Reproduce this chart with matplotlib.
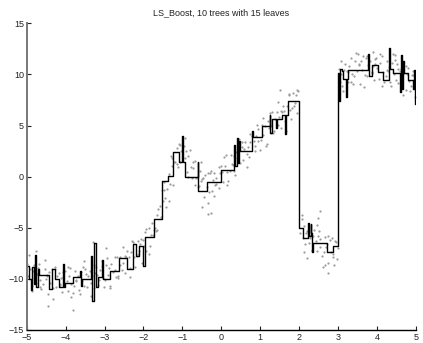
import matplotlib
matplotlib.use("Agg")
import matplotlib.pyplot as plt

plt.rcParams["font.family"] = ["Liberation Sans", "DejaVu Sans"]

# noisy training samples
sample_x = [
    -4.99, -4.955, -4.925, -4.87, -4.84, -4.81, -4.78, -4.75, -4.715, -4.69, -4.655, -4.625,
    -4.57, -4.54, -4.51, -4.48, -4.45, -4.415, -4.39, -4.355, -4.325, -4.27, -4.24, -4.21,
    -4.18, -4.15, -4.115, -4.09, -4.055, -4.025, -3.97, -3.94, -3.91, -3.88, -3.85, -3.815,
    -3.79, -3.755, -3.725, -3.67, -3.64, -3.61, -3.58, -3.55, -3.515, -3.49, -3.455, -3.425,
    -3.37, -3.34, -3.31, -3.28, -3.25, -3.215, -3.19, -3.155, -3.125, -3.07, -3.04, -3.01,
    -2.98, -2.95, -2.915, -2.89, -2.855, -2.825, -2.77, -2.74, -2.71, -2.68, -2.65, -2.615,
    -2.59, -2.555, -2.525, -2.47, -2.44, -2.41, -2.38, -2.35, -2.315, -2.29, -2.255, -2.225,
    -2.17, -2.14, -2.11, -2.08, -2.05, -2.015, -1.99, -1.955, -1.925, -1.87, -1.84, -1.81,
    -1.78, -1.75, -1.715, -1.69, -1.655, -1.625, -1.57, -1.54, -1.51, -1.48, -1.45, -1.415,
    -1.39, -1.355, -1.325, -1.27, -1.24, -1.21, -1.18, -1.15, -1.115, -1.09, -1.055, -1.025,
    -0.97, -0.94, -0.91, -0.88, -0.85, -0.815, -0.79, -0.755, -0.725, -0.67, -0.64, -0.61,
    -0.58, -0.55, -0.515, -0.49, -0.455, -0.425, -0.37, -0.34, -0.31, -0.28, -0.25, -0.215,
    -0.19, -0.155, -0.125, -0.07, -0.04, -0.01, 0.02, 0.05, 0.085, 0.11, 0.145, 0.175,
    0.23, 0.26, 0.29, 0.32, 0.35, 0.385, 0.41, 0.445, 0.475, 0.53, 0.56, 0.59,
    0.62, 0.65, 0.685, 0.71, 0.745, 0.775, 0.83, 0.86, 0.89, 0.92, 0.95, 0.985,
    1.01, 1.045, 1.075, 1.13, 1.16, 1.19, 1.22, 1.25, 1.285, 1.31, 1.345, 1.375,
    1.43, 1.46, 1.49, 1.52, 1.55, 1.585, 1.61, 1.645, 1.675, 1.73, 1.76, 1.79,
    1.82, 1.85, 1.885, 1.91, 1.945, 1.975, 2.03, 2.06, 2.09, 2.12, 2.15, 2.185,
    2.21, 2.245, 2.275, 2.33, 2.36, 2.39, 2.42, 2.45, 2.485, 2.51, 2.545, 2.575,
    2.63, 2.66, 2.69, 2.72, 2.75, 2.785, 2.81, 2.845, 2.875, 2.93, 2.96, 2.99,
    3.02, 3.05, 3.085, 3.11, 3.145, 3.175, 3.23, 3.26, 3.29, 3.32, 3.35, 3.385,
    3.41, 3.445, 3.475, 3.53, 3.56, 3.59, 3.62, 3.65, 3.685, 3.71, 3.745, 3.775,
    3.83, 3.86, 3.89, 3.92, 3.95, 3.985, 4.01, 4.045, 4.075, 4.13, 4.16, 4.19,
    4.22, 4.25, 4.285, 4.31, 4.345, 4.375, 4.43, 4.46, 4.49, 4.52, 4.55, 4.585,
    4.61, 4.645, 4.675, 4.73, 4.76, 4.79, 4.82, 4.85, 4.885, 4.91, 4.945, 4.975,
    -4.45, -3.82, -4.75, -3.3, -2.95, -0.5, -0.35, -0.27, -0.2, 2.47, 2.53, 2.75,
    2.6, 2.2, 3.5, 3.9, 1.5, -1.3, 4.4, 2.9,
]
sample_y = [
    -8.5, -9.7, -9.0, -10.7, -9.2, -8.6, -9.4, -10.4, -8.9, -8.5, -10.1, -11.0,
    -10.5, -9.0, -10.0, -9.7, -11.5, -9.3, -10.4, -9.0, -10.9, -9.0, -10.8, -9.7,
    -9.4, -10.6, -9.9, -11.3, -9.8, -9.2, -10.2, -11.2, -9.7, -8.9, -10.5, -11.4,
    -10.7, -9.2, -10.2, -9.7, -11.5, -9.3, -10.2, -8.8, -10.7, -9.0, -10.8, -9.7,
    -9.2, -10.4, -9.7, -10.9, -9.4, -8.8, -9.6, -10.6, -9.1, -8.3, -9.9, -10.8,
    -10.1, -8.6, -9.6, -8.9, -10.7, -8.5, -9.3, -7.9, -9.8, -7.9, -9.7, -8.6,
    -7.9, -9.1, -8.4, -9.4, -7.9, -7.3, -7.9, -8.9, -7.4, -6.3, -7.9, -8.8,
    -7.8, -6.3, -7.3, -6.6, -8.4, -6.2, -6.8, -5.4, -7.3, -5.0, -6.8, -5.7,
    -4.5, -5.7, -5.0, -5.3, -3.8, -3.2, -2.9, -3.9, -2.4, -0.5, -2.1, -3.0,
    -1.2, 0.3, -0.7, 1.0, -0.8, 1.4, 1.4, 2.8, 0.9, 3.2, 1.4, 2.5,
    3.0, 1.8, 2.5, 0.5, 2.0, 2.6, 0.9, -0.1, 1.4, 1.5, -0.1, -1.0,
    -0.9, 0.6, -0.4, -0.2, -2.0, 0.2, -1.0, 0.4, -1.5, 0.4, -1.4, -0.3,
    0.4, -0.8, -0.1, -1.1, 0.4, 1.0, 0.5, -0.5, 1.0, 2.1, 0.5, -0.4,
    0.6, 2.1, 1.1, 2.0, 0.2, 2.4, 1.8, 3.2, 1.3, 3.4, 1.6, 2.7,
    3.4, 2.2, 2.9, 1.9, 3.4, 4.0, 3.5, 2.5, 4.0, 5.1, 3.5, 2.6,
    3.6, 5.1, 4.1, 5.0, 3.2, 5.4, 4.8, 6.2, 4.3, 6.3, 4.5, 5.6,
    6.3, 5.1, 5.8, 4.8, 6.3, 6.9, 6.4, 5.4, 6.9, 8.1, 6.5, 5.6,
    6.7, 8.2, 7.2, 8.0, 6.2, 8.4, -5.5, -4.1, -6.0, -4.8, -6.6, -5.5,
    -5.3, -6.5, -5.8, -7.3, -5.8, -5.2, -6.3, -7.3, -5.8, -5.3, -6.9, -7.8,
    -7.4, -5.9, -6.9, -6.6, -8.4, -6.2, -7.4, -6.0, -7.9, -6.3, -8.1, -7.0,
    10.5, 9.3, 10.0, 8.9, 10.4, 11.0, 10.3, 9.3, 10.8, 11.6, 10.0, 9.1,
    9.8, 11.3, 10.3, 10.9, 9.1, 11.3, 10.4, 11.8, 9.9, 11.6, 9.8, 10.9,
    11.3, 10.1, 10.8, 9.5, 11.0, 11.6, 10.6, 9.6, 11.1, 11.8, 10.2, 9.3,
    9.8, 11.3, 10.3, 10.7, 8.9, 11.1, 10.0, 11.4, 9.5, 11.0, 9.2, 10.3,
    10.5, 9.3, 10.0, 8.5, 10.0, 10.6, 9.4, 8.4, 9.9, 10.3, 8.7, 7.8,
    -12.7, -13.0, -7.3, -6.4, -7.0, -3.0, -3.7, -3.6, -1.9, -4.0, -3.4, -9.4,
    -8.8, -8.0, 12.0, 12.2, 8.5, 2.0, 12.0, -8.6,
]

# a second pass of samples over the same range
extra_x = [
    -4.935, -4.865, -4.735, -4.665, -4.535, -4.465, -4.335, -4.265, -4.135, -4.065,
    -3.935, -3.865, -3.735, -3.665, -3.535, -3.465, -3.335, -3.265, -3.135, -3.065,
    -2.935, -2.865, -2.735, -2.665, -2.535, -2.465, -2.335, -2.265, -2.135, -2.065,
    -1.935, -1.865, -1.735, -1.665, -1.535, -1.465, -1.335, -1.265, -1.135, -1.065,
    -0.935, -0.865, -0.735, -0.665, -0.535, -0.465, -0.335, -0.265, -0.135, -0.065,
    0.065, 0.135, 0.265, 0.335, 0.465, 0.535, 0.665, 0.735, 0.865, 0.935,
    1.065, 1.135, 1.265, 1.335, 1.465, 1.535, 1.665, 1.735, 1.865, 1.935,
    2.065, 2.135, 2.265, 2.335, 2.465, 2.535, 2.665, 2.735, 2.865, 2.935,
    3.065, 3.135, 3.265, 3.335, 3.465, 3.535, 3.665, 3.735, 3.865, 3.935,
    4.065, 4.135, 4.265, 4.335, 4.465, 4.535, 4.665, 4.735, 4.865, 4.935,
]
extra_y = [
    -7.7, -11.2, -9.5, -10.8, -8.2, -9.6, -12.0, -8.8, -10.5, -9.3,
    -8.8, -11.8, -10.1, -11.1, -8.3, -9.5, -11.7, -8.6, -10.1, -8.7,
    -8.0, -10.9, -9.1, -9.9, -6.9, -7.8, -9.8, -6.4, -7.6, -6.1,
    -5.1, -7.6, -5.2, -5.2, -1.3, -1.3, -2.4, 1.8, 1.2, 3.1,
    3.8, 0.0, 0.8, -0.8, 1.4, -0.1, -2.6, 0.6, -0.7, 0.9,
    1.9, -0.8, 1.2, 0.6, 3.7, 2.9, 0.9, 4.2, 3.0, 4.7,
    5.7, 3.0, 5.0, 4.3, 7.3, 6.4, 4.5, 8.0, 6.9, 8.5,
    -3.8, -7.4, -6.0, -7.2, -4.7, -6.1, -8.6, -5.8, -7.6, -6.4,
    11.3, 8.4, 10.2, 9.3, 12.1, 11.0, 8.8, 11.8, 10.2, 11.5,
    12.0, 8.9, 10.4, 9.3, 11.9, 10.5, 8.0, 10.8, 8.9, 9.9,
]

# boosted regression tree fit: leaf start positions and leaf values
step_x = [
    -5.00, -4.93, -4.88, -4.85, -4.81, -4.79, -4.75, -4.72, -4.67, -4.42,
    -4.34, -4.26, -4.17, -4.07, -4.04, -4.01, -3.82, -3.64, -3.61, -3.57,
    -3.36, -3.33, -3.26, -3.22, -3.18, -3.07, -3.04, -2.86, -2.62, -2.41,
    -2.28, -2.19, -2.12, -2.00, -1.95, -1.72, -1.53, -1.38, -1.23, -1.10,
    -1.00, -0.98, -0.93, -0.61, -0.59, -0.38, 0.00, 0.33, 0.35, 0.40,
    0.42, 0.46, 0.48, 0.80, 0.82, 1.05, 1.24, 1.26, 1.31, 1.40,
    1.44, 1.56, 1.64, 1.66, 1.70, 2.00, 2.10, 2.23, 2.25, 2.29,
    2.31, 2.34, 2.36, 2.72, 2.86, 3.00, 3.02, 3.05, 3.09, 3.13,
    3.20, 3.22, 3.26, 3.76, 3.78, 3.88, 4.02, 4.16, 4.30, 4.32,
    4.40, 4.59, 4.61, 4.63, 4.66, 4.68, 4.80, 4.91, 4.95, 4.97,
    5.00,
]
step_y = [
    -8.7, -10.0, -11.1, -8.8, -10.5, -7.7, -10.8, -9.0, -9.6, -11.0,
    -9.0, -10.0, -10.8, -8.5, -10.8, -10.4, -9.8, -9.2, -10.7, -10.0,
    -7.8, -12.2, -6.5, -10.8, -9.8, -8.2, -10.0, -9.2, -8.0, -9.0,
    -6.6, -7.8, -6.8, -8.7, -5.9, -4.1, -0.45, 0.1, 2.45, 1.45,
    4.0, 1.45, 0.0, 1.4, -1.4, -0.55, 0.66, 3.1, 1.0, 3.8,
    1.3, 3.5, 2.5, 4.5, 3.9, 5.0, 6.0, 4.3, 5.6, 4.8,
    5.6, 6.0, 4.2, 6.0, 7.4, -5.05, -6.0, -4.5, -5.8, -4.6,
    -5.5, -7.4, -6.5, -7.35, -6.8, 10.1, 7.4, 10.5, 10.3, 9.6,
    7.8, 9.6, 10.4, 12.0, 9.8, 10.9, 10.2, 9.45, 12.6, 10.5,
    10.1, 8.3, 11.9, 8.6, 11.3, 10.1, 9.5, 8.6, 10.4, 7.1,
    7.1,
]

x_ticks = [-5, -4, -3, -2, -1, 0, 1, 2, 3, 4, 5]
y_ticks = [-15, -10, -5, 0, 5, 10, 15]

fig = plt.figure(figsize=(4.23, 3.43), dpi=100)
ax = fig.add_axes([0.063, 0.038, 0.9205, 0.894])

ax.plot(sample_x, sample_y, ".", color="#9c9c9c", ms=3.2, mew=0)
ax.plot(extra_x, extra_y, ".", color="#9c9c9c", ms=3.2, mew=0)
ax.plot(step_x, step_y, color="black", lw=1.0, drawstyle="steps-post")

ax.set_xlim(-5, 5)
ax.set_ylim(-15, 15)
ax.set_xticks(x_ticks)
ax.set_yticks(y_ticks)
ax.tick_params(direction="in", length=3, width=0.8, labelsize=6.5,
               colors="#222222", pad=2)

ax.spines["top"].set_visible(False)
ax.spines["right"].set_visible(False)
ax.spines["left"].set_color("#777777")
ax.spines["left"].set_linewidth(1.4)
ax.spines["bottom"].set_color("black")
ax.spines["bottom"].set_linewidth(1.0)

ax.set_title("LS_Boost, 10 trees with 15 leaves", fontsize=6.5, pad=6,
             color="#222222")

fig.savefig("out.png", dpi=100)
